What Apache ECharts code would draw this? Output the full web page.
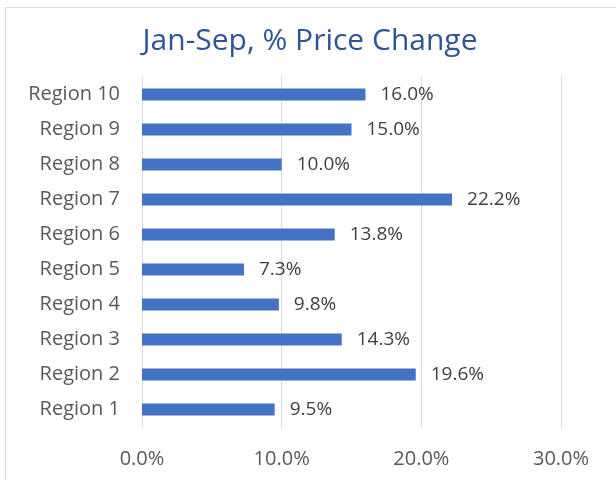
<!DOCTYPE html>
<html>
<head>
<meta charset="utf-8">
<script src="https://cdn.jsdelivr.net/npm/echarts@6/dist/echarts.min.js"></script>
<style>
  html, body { margin: 0; padding: 0; background: #fff; }
  #chart { width: 616px; height: 480px; }
</style>
</head>
<body>
<div id="chart"></div>
<script>
// 地区（自下而上）
const regions = ['Region 1', 'Region 2', 'Region 3', 'Region 4', 'Region 5',
  'Region 6', 'Region 7', 'Region 8', 'Region 9', 'Region 10']
// 1-9月价格涨幅 %
const priceChange = [9.5, 19.6, 14.3, 9.8, 7.3, 13.8, 22.2, 10.0, 15.0, 16.0]
const xTicks = [0, 10, 20, 30]

const font = 'Open Sans'
const chart = echarts.init(document.getElementById('chart'))
chart.setOption({
  animation: false,
  title: {
    text: 'Jan-Sep, % Price Change',
    left: 305,
    top: 21,
    textAlign: 'center',
    textStyle: { color: '#2F5597', fontFamily: font, fontSize: 30, fontWeight: 'normal' }
  },
  graphic: [{
    type: 'rect',
    shape: { x: 5.5, y: 7.5, width: 640, height: 500 },
    style: { fill: 'none', stroke: '#D9D9D9', lineWidth: 1 }
  }],
  grid: { left: 142, right: 55, top: 77, bottom: 53 },
  xAxis: {
    type: 'value',
    min: xTicks[0],
    max: xTicks[xTicks.length - 1],
    interval: 10,
    axisLine: { show: false },
    axisTick: { show: false },
    splitLine: { lineStyle: { color: '#D9D9D9', width: 1 } },
    axisLabel: {
      margin: 22,
      color: '#595959',
      fontFamily: font,
      fontSize: 20,
      formatter: v => v.toFixed(1) + '%'
    }
  },
  yAxis: {
    type: 'category',
    data: regions,
    axisLine: { show: false },
    axisTick: { show: false },
    axisLabel: { margin: 22, color: '#595959', fontFamily: font, fontSize: 20 }
  },
  series: [{
    type: 'bar',
    data: priceChange,
    barWidth: 12,
    itemStyle: { color: '#4472C4' },
    label: {
      show: true,
      position: 'right',
      distance: 15,
      color: '#404040',
      fontFamily: font,
      fontSize: 19,
      formatter: p => p.value.toFixed(1) + '%'
    }
  }]
})
</script>
</body>
</html>
